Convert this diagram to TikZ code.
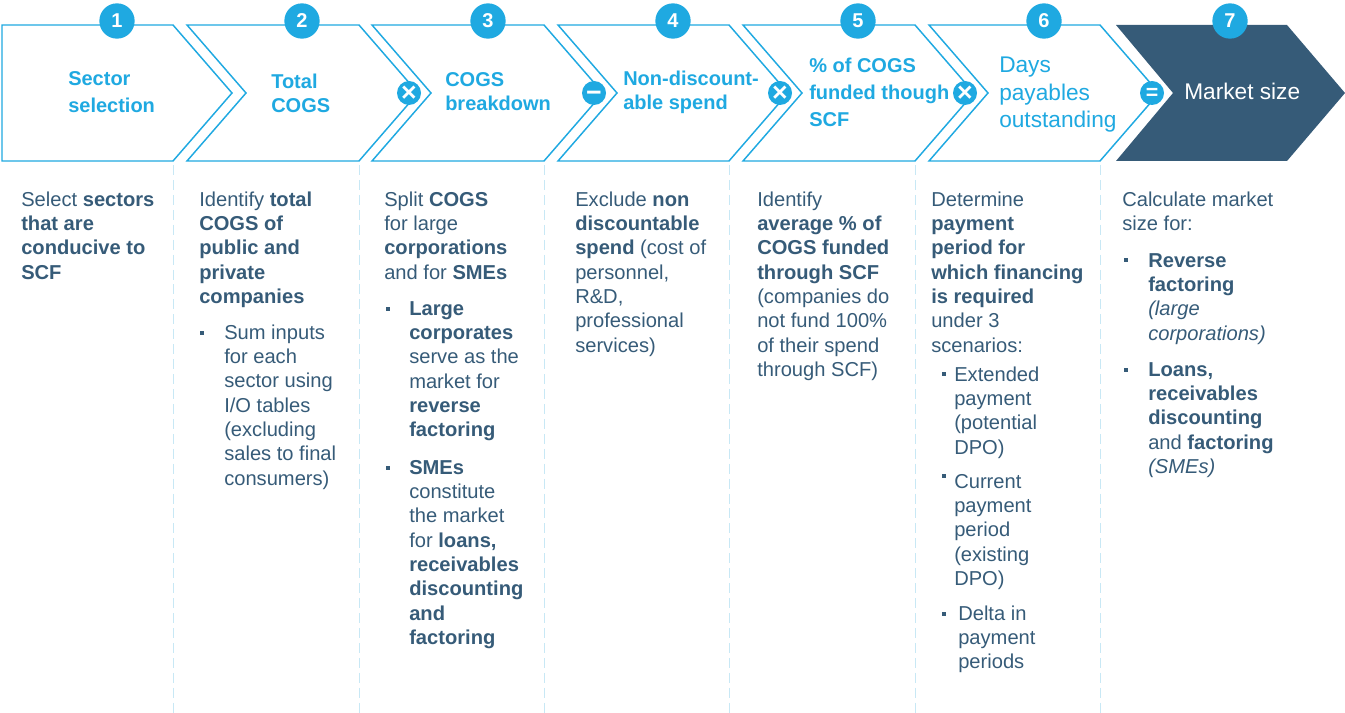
\documentclass[tikz,border=0pt]{standalone}
\usepackage{fontspec}
\setmainfont{Liberation Sans}
\usetikzlibrary{positioning}
\definecolor{stepblue}{HTML}{1FA9E1}
\definecolor{slate}{HTML}{365B78}
\definecolor{sepblue}{HTML}{C8E8F5}
\tikzset{
  chevron/.style={draw=stepblue,line width=1.1pt,fill=white},
  last chevron/.style={fill=slate},
  sep line/.style={draw=sepblue,line width=0.7pt,dash pattern=on 7.5pt off 3.7pt},
  number node/.style={circle,fill=stepblue,text=white,minimum size=26.5pt,inner sep=0pt,font=\fontsize{15}{18}\selectfont\bfseries},
  op node/.style={circle,fill=stepblue,text=white,minimum size=18pt,inner sep=0pt,text height=13pt,text depth=0pt,font=\fontsize{20}{20}\selectfont\bfseries},
  head node/.style={anchor=north west,inner sep=0pt,yshift=-1.5pt,align=left,text=stepblue,font=\fontsize{15}{18.2}\selectfont\bfseries},
  big head node/.style={anchor=north west,inner sep=0pt,yshift=-1.2pt,align=left,text=stepblue,font=\fontsize{17}{20.5}\selectfont},
  body node/.style={anchor=north west,inner sep=0pt,yshift=-1.5pt,align=left,text=slate,font=\fontsize{15.1}{18.25}\selectfont},
  bullet node/.style={rectangle,fill=slate,minimum size=3pt,inner sep=0pt},
}
\begin{document}
\begin{tikzpicture}[x=0.75pt,y=-0.75pt]
	\useasboundingbox (0,0) rectangle (1345,713);

	% dashed column separators
	\coordinate (s1t) at (173,165);
	\coordinate (s1b) at (173,713);
	\coordinate (s2t) at (359,165);
	\coordinate (s2b) at (359,713);
	\coordinate (s3t) at (544,165);
	\coordinate (s3b) at (544,713);
	\coordinate (s4t) at (729,165);
	\coordinate (s4b) at (729,713);
	\coordinate (s5t) at (915,165);
	\coordinate (s5b) at (915,713);
	\coordinate (s6t) at (1100,165);
	\coordinate (s6b) at (1100,713);
	\path[sep line]
	(s1t) edge (s1b)
	(s2t) edge (s2b)
	(s3t) edge (s3b)
	(s4t) edge (s4b)
	(s5t) edge (s5b)
	(s6t) edge (s6b);

	% chevrons
	\draw[chevron] (2,25) -- (173,25) -- (232,93) -- (173,161) -- (2,161) -- cycle;
	\draw[chevron] (187,25) -- (359,25) -- (418,93) -- (359,161) -- (187,161) -- (246,93) -- cycle;
	\draw[chevron] (372,25) -- (544,25) -- (603,93) -- (544,161) -- (372,161) -- (431,93) -- cycle;
	\draw[chevron] (558,25) -- (729,25) -- (788,93) -- (729,161) -- (558,161) -- (617,93) -- cycle;
	\draw[chevron] (743,25) -- (915,25) -- (974,93) -- (915,161) -- (743,161) -- (802,93) -- cycle;
	\draw[chevron] (929,25) -- (1100,25) -- (1159,93) -- (1100,161) -- (929,161) -- (988,93) -- cycle;
	\fill[last chevron] (1116,25) -- (1287,25) -- (1345,93) -- (1287,161) -- (1116,161) -- (1173,93) -- cycle;

	% step numbers
	\node[number node] (n1) at (117,21) {1};
	\node[number node] (n2) at (302,21) {2};
	\node[number node] (n3) at (488,21) {3};
	\node[number node] (n4) at (673,21) {4};
	\node[number node] (n5) at (858,21) {5};
	\node[number node] (n6) at (1044,21) {6};
	\node[number node] (n7) at (1230,21) {7};

	% operators
	\node[op node] (op3) at (409,93) {×};
	\node[op node] (op4) at (594,93) {−};
	\node[op node] (op5) at (780,93) {×};
	\node[op node] (op6) at (965,93) {×};
	\node[op node,text height=10.5pt,font=\fontsize{16}{16}\selectfont\bfseries] (op7) at (1152,93) {=};

	% step titles
	\node[head node] (h1) at (68,66) {\strut Sector\\[2pt]\strut selection};
	\node[head node] (h2) at (271,69) {\strut Total\\\strut COGS};
	\node[head node] (h3) at (445,67) {\strut COGS\\\strut breakdown};
	\node[head node] (h4) at (623,66) {\strut Non-discount-\\\strut able spend};
	\node[head node] (h5) at (809,53) {\strut \% of COGS\\[2pt]\strut funded though\\[2pt]\strut SCF};
	\node[big head node] (h6) at (999,52) {\strut Days\\\strut payables\\\strut outstanding};
	\node[big head node,text=white] (h7) at (1184,79) {\strut Market size};

	% column 1
	\node[body node] (c1) at (21,187) {\strut Select \textbf{sectors}\\\strut\textbf{that are}\\\strut\textbf{conducive to}\\\strut\textbf{SCF}};

	% column 2
	\node[body node] (c2) at (199,187) {\strut Identify \textbf{total}\\\strut\textbf{COGS of}\\\strut\textbf{public and}\\\strut\textbf{private}\\\strut\textbf{companies}};
	\node[bullet node] (b2a) at (202,333) {};
	\node[body node] (c2a) at (224,320) {\strut Sum inputs\\\strut for each\\\strut sector using\\\strut I/O tables\\\strut (excluding\\\strut sales to final\\\strut consumers)};

	% column 3
	\node[body node] (c3) at (384,187) {\strut Split \textbf{COGS}\\\strut for large\\\strut\textbf{corporations}\\\strut and for \textbf{SMEs}};
	\node[bullet node] (b3a) at (388,309) {};
	\node[body node] (c3a) at (409,296) {\strut\textbf{Large}\\\strut\textbf{corporates}\\\strut serve as the\\\strut market for\\\strut\textbf{reverse}\\\strut\textbf{factoring}};
	\node[bullet node] (b3b) at (388,468) {};
	\node[body node] (c3b) at (409,455) {\strut\textbf{SMEs}\\\strut constitute\\\strut the market\\\strut for \textbf{loans,}\\\strut\textbf{receivables}\\\strut\textbf{discounting}\\\strut\textbf{and}\\\strut\textbf{factoring}};

	% column 4
	\node[body node] (c4) at (575,187) {\strut Exclude \textbf{non}\\\strut\textbf{discountable}\\\strut\textbf{spend} (cost of\\\strut personnel,\\\strut R\&D,\\\strut professional\\\strut services)};

	% column 5
	\node[body node] (c5) at (757,187) {\strut Identify\\\strut\textbf{average \% of}\\\strut\textbf{COGS funded}\\\strut\textbf{through SCF}\\\strut (companies do\\\strut not fund 100\%\\\strut of their spend\\\strut through SCF)};

	% column 6
	\node[body node] (c6) at (931,187) {\strut Determine\\\strut\textbf{payment}\\\strut\textbf{period for}\\\strut\textbf{which financing}\\\strut\textbf{is required}\\\strut under 3\\\strut scenarios:};
	\node[bullet node] (b6a) at (944,374) {};
	\node[body node] (c6a) at (954,362) {\strut Extended\\\strut payment\\\strut (potential\\\strut DPO)};
	\node[bullet node] (b6b) at (944,476) {};
	\node[body node] (c6b) at (954,469) {\strut Current\\\strut payment\\\strut period\\\strut (existing\\\strut DPO)};
	\node[bullet node] (b6c) at (944,614) {};
	\node[body node] (c6c) at (958,601) {\strut Delta in\\\strut payment\\\strut periods};

	% column 7
	\node[body node] (c7) at (1122,187) {\strut Calculate market\\\strut size for:};
	\node[bullet node] (b7a) at (1126,260) {};
	\node[body node] (c7a) at (1148,248) {\strut\textbf{Reverse}\\\strut\textbf{factoring}\\\strut\textit{(large}\\\strut\textit{corporations)}};
	\node[bullet node] (b7b) at (1126,370) {};
	\node[body node] (c7b) at (1148,357) {\strut\textbf{Loans,}\\\strut\textbf{receivables}\\\strut\textbf{discounting}\\\strut and \textbf{factoring}\\\strut\textit{(SMEs)}};
\end{tikzpicture}
\end{document}
